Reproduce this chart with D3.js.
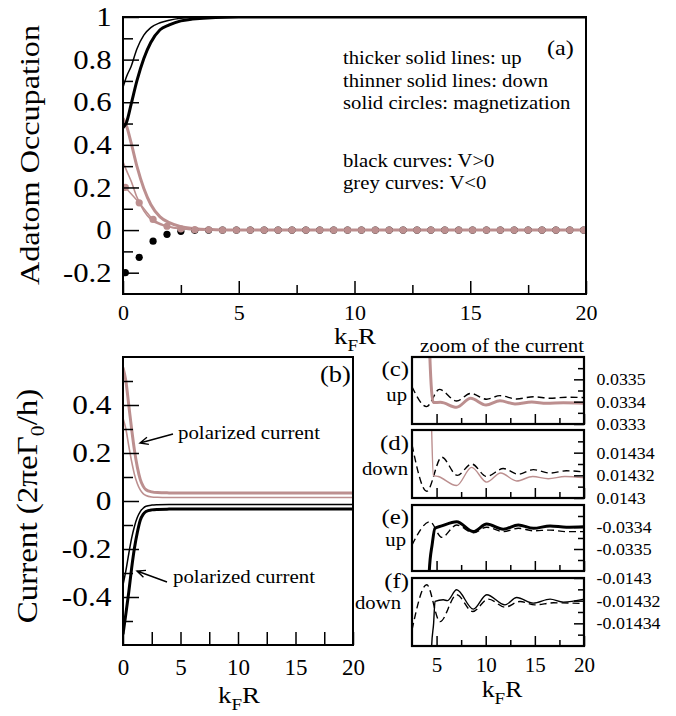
<!DOCTYPE html>
<html><head><meta charset="utf-8">
<script src="https://cdn.jsdelivr.net/npm/d3@7"></script>
<style>body{margin:0;background:#fff}</style>
</head><body><svg id="c" width="676" height="716"></svg>
<script>
// ---------- DATA ----------
// Panel (a): adatom occupation
const occX        = [0, 0.15, 0.35, 0.6, 0.9, 1.2, 1.6, 2.0, 2.5, 3.0, 4.0, 5.0, 20];
const occUpPos    = [0.48, 0.505, 0.59, 0.70, 0.805, 0.88, 0.94, 0.963, 0.982, 0.99, 0.998, 1, 1];
const occDownPos  = [0.67, 0.72, 0.768, 0.85, 0.915, 0.95, 0.973, 0.985, 0.994, 0.998, 1, 1, 1];
const occUpNeg    = [0.525, 0.49, 0.41, 0.30, 0.195, 0.12, 0.062, 0.035, 0.016, 0.008, 0.002, 0, 0];
const occDownNeg  = [0.32, 0.28, 0.23, 0.155, 0.09, 0.05, 0.026, 0.015, 0.006, 0.002, 0, 0, 0];
const magX   = [0.1,0.7,1.3,1.9,2.5,3.1,3.7,4.3,4.9,5.5,6.1,6.7,7.3,7.9,8.5,9.1,9.7,10.3,10.9,11.5,12.1,12.7,13.3,13.9,14.5,15.1,15.7,16.3,16.9,17.5,18.1,18.7,19.3,19.9];
const magPos = [-0.2,-0.128,-0.052,-0.02,-0.006,-0.001,0,0,0,0,0,0,0,0,0,0,0,0,0,0,0,0,0,0,0,0,0,0,0,0,0,0,0,0];
const magNeg = [0.2,0.128,0.05,0.018,0.006,0.002,0.001,0,0,0,0,0,0,0,0,0,0,0,0,0,0,0,0,0,0,0,0,0,0,0,0,0,0,0];
const aYTicks  = [-0.2, 0, 0.2, 0.4, 0.6, 0.8, 1];
const aYLabels = ["-0.2","0","0.2","0.4","0.6","0.8","1"];
const aYMinor  = [-0.1, 0.1, 0.3, 0.5, 0.7, 0.9];
const xMajor   = [0, 5, 10, 15, 20];
const xLabels  = ["0","5","10","15","20"];
const xMinor   = [2.5, 7.5, 12.5, 17.5];

// Panel (b): current
const curX       = [0, 0.25, 0.5, 0.75, 1, 1.25, 1.5, 1.75, 2, 2.5, 3, 4, 5, 20];
const curUpNeg   = [0.556, 0.50, 0.40, 0.30, 0.21, 0.14, 0.09, 0.062, 0.047, 0.038, 0.035, 0.0338, 0.0334, 0.0334];
const curDownNeg = [0.345, 0.30, 0.23, 0.165, 0.11, 0.072, 0.046, 0.031, 0.023, 0.017, 0.0155, 0.0145, 0.0143, 0.0143];
const curUpPos   = [-0.555, -0.47, -0.38, -0.28, -0.195, -0.13, -0.08, -0.056, -0.044, -0.037, -0.035, -0.0338, -0.0334, -0.0334];
const curDownPos = [-0.35, -0.29, -0.22, -0.155, -0.105, -0.068, -0.044, -0.03, -0.022, -0.017, -0.0155, -0.0145, -0.0143, -0.0143];
const bYTicks  = [-0.4, -0.2, 0, 0.2, 0.4];
const bYLabels = ["-0.4","-0.2","0","0.2","0.4"];
const bYMinor  = [-0.5, -0.3, -0.1, 0.1, 0.3, 0.5];

// Panels (c)-(f): zoom of the current
const zXMajor  = [5, 10, 15, 20];
const zXLabels = ["5","10","15","20"];
const zXMinor  = [7.5, 12.5, 17.5];

const cSolidX = [3.9, 4.3, 4.67, 5.4, 7.04, 8.47, 10.03, 11.45, 12.98, 14.68, 16.2, 17.9, 20];
const cSolid  = [0.0345, 0.03362, 0.033396, 0.033397, 0.033375, 0.033415, 0.033385, 0.033404, 0.03339, 0.033398, 0.033393, 0.033395, 0.033393];
const cDashX  = [2.5, 3.99, 5.28, 7.04, 8.47, 10.1, 11.45, 13.15, 14.85, 16.55, 18.2, 20];
const cDash   = [0.033467, 0.033378, 0.033455, 0.033403, 0.033437, 0.033411, 0.033427, 0.033412, 0.033422, 0.033415, 0.03342, 0.033418];
const cTicks  = [0.0335, 0.0334, 0.0333];
const cLabels = ["0.0335","0.0334","0.0333"];
const cMinor  = [0.03335, 0.03345, 0.03355];

const dSolidX = [4.3, 4.5, 4.67, 5.18, 7.04, 8.57, 10.1, 11.52, 13.15, 14.78, 16.37, 18.06, 20];
const dSolid  = [0.01445, 0.01436, 0.01432, 0.014319, 0.014311, 0.014327, 0.014314, 0.014322, 0.014315, 0.014319, 0.014317, 0.014319, 0.014318];
const dDashX  = [2.5, 4.0, 5.52, 7.1, 8.57, 10.1, 11.79, 13.32, 14.85, 16.55, 18.2, 20];
const dDash   = [0.014347, 0.014306, 0.014336, 0.01432, 0.01433, 0.014319, 0.014326, 0.014321, 0.014325, 0.014322, 0.014324, 0.014323];
const dTicks  = [0.01434, 0.01432, 0.0143];
const dLabels = ["0.01434","0.01432","0.0143"];
const dMinor  = [0.01431, 0.01433, 0.01435];

const eSolidX = [4.0, 4.26, 4.55, 4.84, 5.52, 7.04, 8.74, 10.1, 11.79, 13.32, 14.85, 16.55, 18.2, 20];
const eSolid  = [-0.0345, -0.0336, -0.03348, -0.033406, -0.033395, -0.033376, -0.033421, -0.033386, -0.03341, -0.033391, -0.033406, -0.033395, -0.033401, -0.033399];
const eDashX  = [2.5, 4.33, 5.52, 7.04, 8.74, 10.1, 11.79, 13.32, 14.85, 16.55, 18.2, 20];
const eDash   = [-0.033482, -0.033376, -0.033447, -0.033391, -0.033426, -0.033401, -0.033421, -0.033406, -0.033417, -0.033414, -0.033421, -0.033421];
const eTicks  = [-0.0334, -0.0335];
const eLabels = ["-0.0334","-0.0335"];
const eMinor  = [-0.03335, -0.03345, -0.03355];

const fSolidX = [4.3, 4.5, 4.7, 4.84, 5.68, 6.1, 7.04, 8.74, 10.1, 11.96, 13.15, 14.85, 16.55, 17.9, 20];
const fSolid  = [-0.0146, -0.01436, -0.01434, -0.0143207, -0.0143192, -0.01432, -0.0143104, -0.0143275, -0.0143148, -0.0143237, -0.0143172, -0.0143222, -0.0143186, -0.0143213, -0.0143186];
const fDashX  = [2.5, 4.0, 5.35, 7.04, 8.67, 10.27, 11.96, 13.49, 15.0, 16.89, 20];
const fDash   = [-0.0143458, -0.0143059, -0.0143385, -0.0143148, -0.0143296, -0.0143186, -0.0143257, -0.0143207, -0.0143237, -0.0143219, -0.0143225];
const fTicks  = [-0.0143, -0.01432, -0.01434];
const fLabels = ["-0.0143","-0.01432","-0.01434"];
const fMinor  = [-0.01431, -0.01433, -0.01435];

// ---------- STYLE ----------
const FONT = "'Liberation Serif','Times New Roman',serif";
const GREY = "#bc8f8f";
const svg = d3.select('#c');
svg.append('rect').attr('width',676).attr('height',716).attr('fill','#fff');
const defs = svg.append('defs');

function stext(x, y, size, anchor, s, rot) {
  const g = svg.append('g').attr('transform', `translate(${x},${y})${rot ? ` rotate(${rot})` : ''} scale(${s},1)`);
  return g.append('text').attr('font-family', FONT).attr('font-size', size)
    .attr('text-anchor', anchor).attr('fill', '#000');
}
function clip(id, sx, sy) {
  const [x0, x1] = sx.range(), [y1, y0] = sy.range();
  defs.append('clipPath').attr('id', id).append('rect')
    .attr('x', x0).attr('y', y0).attr('width', x1 - x0).attr('height', y1 - y0);
  return svg.append('g').attr('clip-path', `url(#${id})`);
}
function drawLine(g, xs, ys, sx, sy, color, width, dash) {
  const pts = xs.map((x, i) => [x, ys[i]]);
  g.append('path').datum(pts)
    .attr('d', d3.line().x(d => sx(d[0])).y(d => sy(d[1])).curve(d3.curveMonotoneX))
    .attr('fill', 'none').attr('stroke', color).attr('stroke-width', width)
    .attr('stroke-dasharray', dash || null).attr('stroke-linejoin', 'round');
}
function styleAxis(sel, size, s) {
  sel.select('.domain').remove();
  sel.selectAll('.tick line').attr('stroke', '#000').attr('stroke-width', 1.5);
  sel.selectAll('text').attr('font-family', FONT).attr('font-size', size).attr('fill', '#000')
    .attr('transform', `scale(${s},1)`);
}
function frame(sx, sy, w) {
  const [x0, x1] = sx.range(), [y1, y0] = sy.range();
  svg.append('rect').attr('x', x0).attr('y', y0).attr('width', x1 - x0).attr('height', y1 - y0)
    .attr('fill', 'none').attr('stroke', '#000').attr('stroke-width', w);
}
function kfr(x, y, size) {
  const t = stext(x, y, size || 24, 'middle', 1.12);
  t.append('tspan').text('k');
  t.append('tspan').attr('font-size', 17).attr('dy', 7).text('F');
  t.append('tspan').attr('dy', -7).text('R');
}

// ---------- PANEL (a) ----------
const xa = d3.scaleLinear().domain([0, 20]).range([123, 586]);
const ya = d3.scaleLinear().domain([-0.3, 1]).range([294, 17]);
const ga = clip('clipA', xa, ya);
drawLine(ga, occX, occUpNeg, xa, ya, GREY, 3);
drawLine(ga, occX, occDownNeg, xa, ya, GREY, 1.6);
drawLine(ga, occX, occUpPos, xa, ya, '#000', 3);
drawLine(ga, occX, occDownPos, xa, ya, '#000', 1.5);
ga.selectAll('circle.mp').data(magX).join('circle').attr('class', 'mp')
  .attr('cx', d => xa(d)).attr('cy', (d, i) => ya(magPos[i])).attr('r', 3.6).attr('fill', '#000');
drawLine(ga, magX, magNeg, xa, ya, GREY, 1.5);
ga.selectAll('circle.mn').data(magX).join('circle').attr('class', 'mn')
  .attr('cx', d => xa(d)).attr('cy', (d, i) => ya(magNeg[i])).attr('r', 3.6).attr('fill', GREY);

svg.append('g').attr('transform', 'translate(0,294)')
  .call(d3.axisBottom(xa).tickValues(xMajor).tickSize(-13).tickPadding(10.5).tickFormat((d, i) => xLabels[i]))
  .call(s => styleAxis(s, 22, 1));
svg.append('g').attr('transform', 'translate(0,294)')
  .call(d3.axisBottom(xa).tickValues(xMinor).tickSize(-9).tickFormat(''))
  .call(s => styleAxis(s, 22, 1));
svg.append('g').attr('transform', 'translate(123,0)')
  .call(d3.axisLeft(ya).tickValues(aYTicks).tickSize(-16).tickPadding(10).tickFormat((d, i) => aYLabels[i]))
  .call(s => styleAxis(s, 27, 1.14));
svg.append('g').attr('transform', 'translate(123,0)')
  .call(d3.axisLeft(ya).tickValues(aYMinor).tickSize(-10).tickFormat(''))
  .call(s => styleAxis(s, 27, 1));
frame(xa, ya, 2);
kfr(355, 344);
stext(39, 155, 28, 'middle', 1.15, -90).text('Adatom Occupation');
stext(547, 55, 21, 'start', 1.15).text('(a)');
const legendLines = [
  ['thicker solid lines: up', 64],
  ['thinner solid lines: down', 87],
  ['solid circles: magnetization', 109],
  ['black curves: V>0', 167],
  ['grey curves: V<0', 189]
];
legendLines.forEach(([t, y]) => stext(343, y, 18, 'start', 1.15).text(t));

// ---------- PANEL (b) ----------
const xb = d3.scaleLinear().domain([0, 20]).range([123, 353]);
const yb = d3.scaleLinear().domain([-0.6, 0.6]).range([645, 357]);
const gb = clip('clipB', xb, yb);
drawLine(gb, curX, curUpNeg, xb, yb, GREY, 3);
drawLine(gb, curX, curDownNeg, xb, yb, GREY, 1.6);
drawLine(gb, curX, curUpPos, xb, yb, '#000', 3);
drawLine(gb, curX, curDownPos, xb, yb, '#000', 1.5);
svg.append('g').attr('transform', 'translate(0,645)')
  .call(d3.axisBottom(xb).tickValues(xMajor).tickSize(-13).tickPadding(14).tickFormat((d, i) => xLabels[i]))
  .call(s => styleAxis(s, 23, 1));
svg.append('g').attr('transform', 'translate(0,645)')
  .call(d3.axisBottom(xb).tickValues(xMinor).tickSize(-13).tickFormat(''))
  .call(s => styleAxis(s, 23, 1));
svg.append('g').attr('transform', 'translate(123,0)')
  .call(d3.axisLeft(yb).tickValues(bYTicks).tickSize(-16).tickPadding(10).tickFormat((d, i) => bYLabels[i]))
  .call(s => styleAxis(s, 27, 1.16));
svg.append('g').attr('transform', 'translate(123,0)')
  .call(d3.axisLeft(yb).tickValues(bYMinor).tickSize(-10).tickFormat(''))
  .call(s => styleAxis(s, 27, 1));
frame(xb, yb, 2);
kfr(239, 703);
stext(320, 382, 23, 'start', 1.15).text('(b)');
{
  const t = stext(37, 506, 29, 'middle', 1.14, -90);
  t.append('tspan').text('Current (2');
  t.append('tspan').text('π');
  t.append('tspan').text('eΓ');
  t.append('tspan').attr('font-size', 19).attr('dy', 7).text('0');
  t.append('tspan').attr('dy', -7).text('/h)');
}
function arrow(x1, y1, x2, y2) {
  const a = Math.atan2(y2 - y1, x2 - x1), L = 9, w = 0.42;
  const p1 = [x1 + L * Math.cos(a + w), y1 + L * Math.sin(a + w)];
  const p2 = [x1 + L * Math.cos(a - w), y1 + L * Math.sin(a - w)];
  svg.append('path').attr('d', `M${x2},${y2}L${x1},${y1}M${p1}L${x1},${y1}L${p2}`)
    .attr('fill', 'none').attr('stroke', '#000').attr('stroke-width', 1.4);
}
arrow(140, 443, 173, 434);
stext(178, 439, 18, 'start', 1.16).text('polarized current');
arrow(137, 571, 167, 582);
stext(173, 583, 18, 'start', 1.16).text('polarized current');

// ---------- PANELS (c)-(f) ----------
const xz = d3.scaleLinear().domain([2.5, 20]).range([412, 584]);
const zoomPanels = [
  {id: 'C', dom: [0.0333, 0.0336], rng: [424, 357], sx: cSolidX, s: cSolid, dx: cDashX, d: cDash, col: GREY, w: 3,
   ticks: cTicks, labels: cLabels, minor: cMinor, tag: '(c)', spin: 'up', tagY: 376, spinY: 401, spinX: 407},
  {id: 'D', dom: [0.0143, 0.01436], rng: [498, 430], sx: dSolidX, s: dSolid, dx: dDashX, d: dDash, col: GREY, w: 1.4,
   ticks: dTicks, labels: dLabels, minor: dMinor, tag: '(d)', spin: 'down', tagY: 450, spinY: 475, spinX: 408},
  {id: 'E', dom: [-0.0336, -0.0333], rng: [571, 505], sx: eSolidX, s: eSolid, dx: eDashX, d: eDash, col: '#000', w: 3,
   ticks: eTicks, labels: eLabels, minor: eMinor, tag: '(e)', spin: 'up', tagY: 524, spinY: 546, spinX: 406},
  {id: 'F', dom: [-0.01436, -0.0143], rng: [646, 578], sx: fSolidX, s: fSolid, dx: fDashX, d: fDash, col: '#000', w: 1.4,
   ticks: fTicks, labels: fLabels, minor: fMinor, tag: '(f)', spin: 'down', tagY: 588, spinY: 609, spinX: 401}
];
zoomPanels.forEach((p, k) => {
  const yz = d3.scaleLinear().domain(p.dom).range(p.rng);
  const g = clip('clip' + p.id, xz, yz);
  drawLine(g, p.dx, p.d, xz, yz, '#000', 1.4, '7,4');
  drawLine(g, p.sx, p.s, xz, yz, p.col, p.w);
  const last = k === zoomPanels.length - 1;
  svg.append('g').attr('transform', `translate(0,${p.rng[0]})`)
    .call(d3.axisBottom(xz).tickValues(zXMajor).tickSize(-10).tickPadding(11)
      .tickFormat((d, i) => last ? zXLabels[i] : ''))
    .call(s => styleAxis(s, 21, 1));
  svg.append('g').attr('transform', `translate(0,${p.rng[0]})`)
    .call(d3.axisBottom(xz).tickValues(zXMinor).tickSize(-6).tickFormat(''))
    .call(s => styleAxis(s, 21, 1));
  svg.append('g').attr('transform', 'translate(584,0)')
    .call(d3.axisRight(yz).tickValues(p.ticks).tickSize(-10).tickPadding(12).tickFormat((d, i) => p.labels[i]))
    .call(s => styleAxis(s, 17, 1.05));
  svg.append('g').attr('transform', 'translate(584,0)')
    .call(d3.axisRight(yz).tickValues(p.minor).tickSize(-6).tickFormat(''))
    .call(s => styleAxis(s, 17, 1));
  frame(xz, yz, 2.2);
  stext(409, p.tagY, 22, 'end', 1.13).text(p.tag);
  stext(p.spinX, p.spinY, 19, 'end', 1.09).text(p.spin);
});
stext(420, 352, 18, 'start', 1.16).text('zoom of the current');
kfr(502, 697, 23);
</script>
</body></html>
